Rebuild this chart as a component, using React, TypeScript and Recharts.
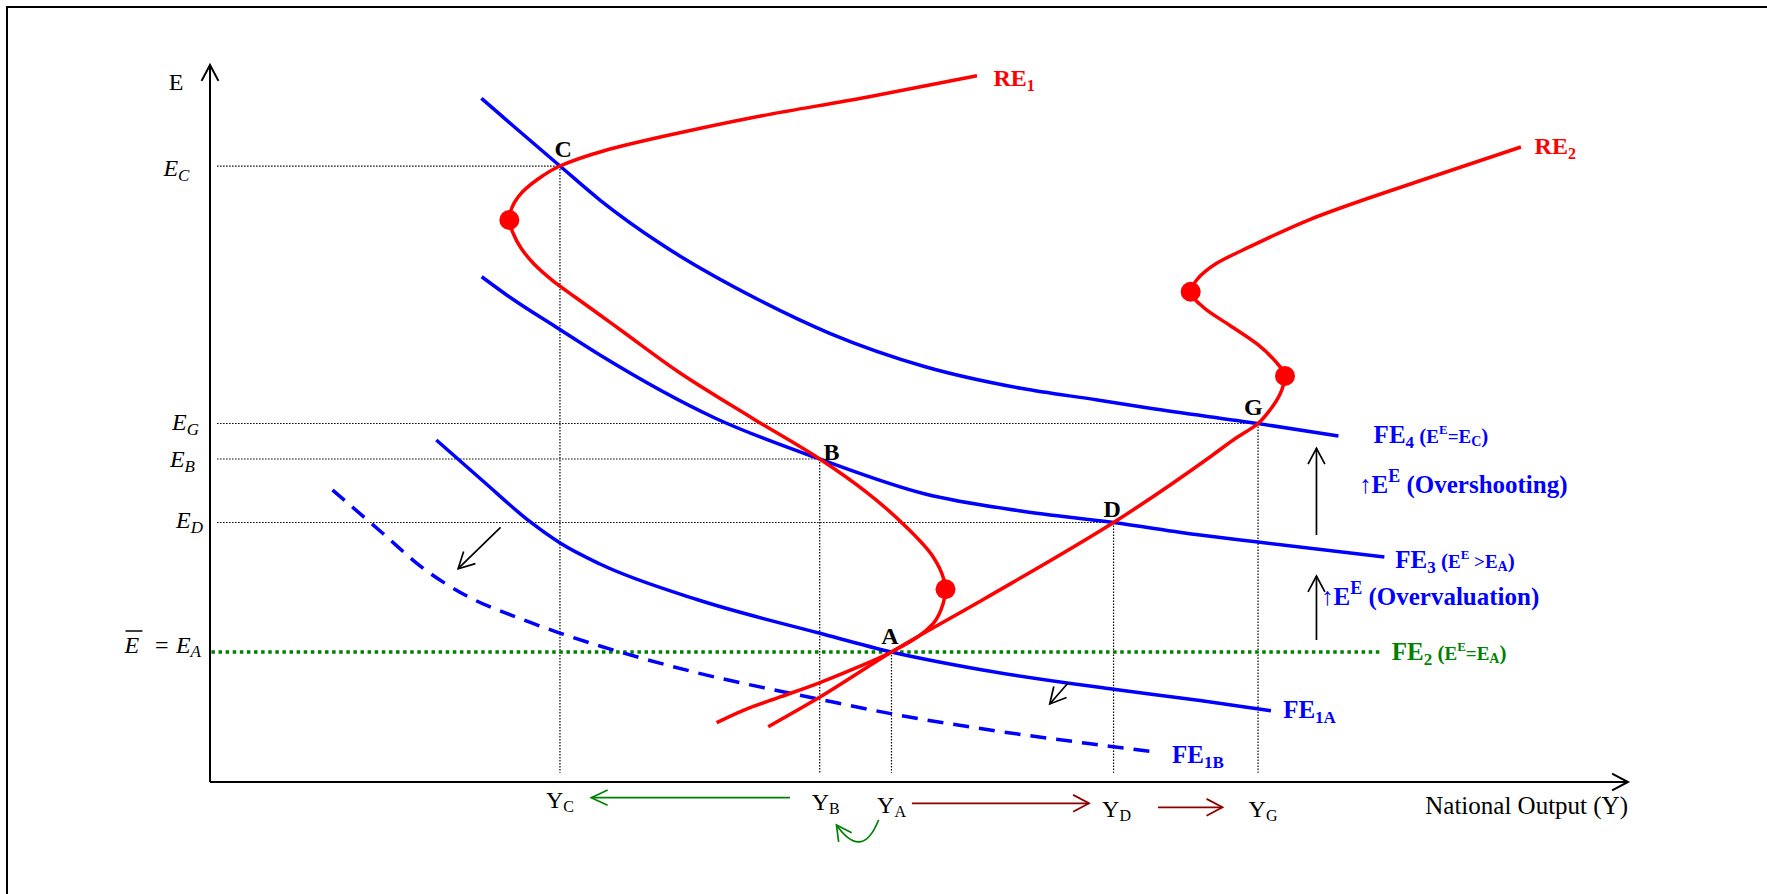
import React from 'react';
import { ComposedChart, Line, Scatter, XAxis, YAxis, ReferenceLine, ReferenceDot } from 'recharts';

const SERIF = "'Liberation Serif', 'Times New Roman', Times, serif";
const BLUE = '#0000ff';
const RED = '#ff0000';
const GREEN = '#008000';
const DARKRED = '#8b0000';

// ---------- equilibrium levels (chart units: output 0-100, exchange rate 0-100) ----------
const E_C = 85.91;
const E_G = 50.0;
const E_B = 45.05;
const E_D = 36.19;
const E_A = 18.13;
const Y_C = 24.68;
const Y_B = 43.0;
const Y_A = 48.06;
const Y_D = 63.72;
const Y_G = 73.91;

const yTickValues = [E_A, E_D, E_B, E_G, E_C];
const yTickNames = ['A', 'D', 'B', 'G', 'C'];
const xTickValues = [Y_C, Y_B, Y_A, Y_D, Y_G];
const xTickNames = ['C', 'B', 'A', 'D', 'G'];

const equilibria = [
  { name: 'C', x: Y_C, y: E_C },
  { name: 'B', x: Y_B, y: E_B },
  { name: 'A', x: Y_A, y: E_A },
  { name: 'D', x: Y_D, y: E_D },
  { name: 'G', x: Y_G, y: E_G },
];

// ---------- FE (foreign exchange) curves ----------
const FE4 = [
  { x: 19.14, y: 95.36 }, { x: 21.39, y: 91.49 }, { x: 24.68, y: 85.91 }, { x: 27.5, y: 81.17 },
  { x: 31.73, y: 75.13 }, { x: 38.65, y: 67.29 }, { x: 43.7, y: 62.58 }, { x: 50.44, y: 57.92 },
  { x: 57.19, y: 54.91 }, { x: 62.59, y: 53.28 }, { x: 66.29, y: 52.12 }, { x: 73.91, y: 50.0 },
  { x: 79.58, y: 48.26 },
];
const FE3 = [
  { x: 19.16, y: 70.47 }, { x: 21.23, y: 67.5 }, { x: 24.45, y: 63.39 }, { x: 27.5, y: 59.55 },
  { x: 35.6, y: 50.77 }, { x: 43.0, y: 45.05 }, { x: 50.44, y: 40.17 }, { x: 57.19, y: 37.8 },
  { x: 63.72, y: 36.19 }, { x: 69.82, y: 34.45 }, { x: 73.91, y: 33.47 }, { x: 82.82, y: 31.38 },
];
const FE2 = [{ x: 0.1, y: E_A }, { x: 82.65, y: E_A }];
const FE1A = [
  { x: 15.96, y: 47.7 }, { x: 19.25, y: 41.98 }, { x: 22.57, y: 36.3 }, { x: 24.72, y: 33.29 },
  { x: 27.5, y: 30.4 }, { x: 34.34, y: 25.45 }, { x: 43.02, y: 20.74 }, { x: 48.06, y: 18.13 },
  { x: 54.49, y: 15.62 }, { x: 63.72, y: 12.93 }, { x: 69.82, y: 11.37 }, { x: 74.82, y: 9.94 },
];
const FE1B = [
  { x: 8.64, y: 40.73 }, { x: 12.18, y: 34.69 }, { x: 14.88, y: 30.03 }, { x: 18.12, y: 25.94 },
  { x: 21.86, y: 22.8 }, { x: 24.72, y: 20.74 }, { x: 27.5, y: 18.97 }, { x: 33.85, y: 15.48 },
  { x: 43.02, y: 11.53 }, { x: 48.15, y: 9.48 }, { x: 55.01, y: 7.25 }, { x: 63.72, y: 4.92 },
  { x: 66.93, y: 4.11 },
];

// ---------- RE (real economy) curves, ordered from top to bottom ----------
const RE1 = [
  { x: 54.09, y: 98.51 }, { x: 46.4, y: 95.54 }, { x: 38.29, y: 92.68 }, { x: 32.9, y: 90.45 },
  { x: 27.86, y: 88.08 }, { x: 24.68, y: 85.91 }, { x: 23.04, y: 83.96 }, { x: 21.74, y: 81.63 },
  { x: 21.11, y: 78.38 }, { x: 21.37, y: 76.57 }, { x: 21.93, y: 74.48 }, { x: 22.85, y: 72.25 },
  { x: 24.12, y: 70.01 }, { x: 25.74, y: 67.64 }, { x: 27.5, y: 65.13 }, { x: 28.91, y: 63.11 },
  { x: 33.15, y: 57.04 }, { x: 38.22, y: 50.77 },
  { x: 43.0, y: 45.05 }, { x: 46.4, y: 40.26 }, { x: 49.08, y: 35.61 }, { x: 50.99, y: 31.42 },
  { x: 51.76, y: 28.17 }, { x: 51.87, y: 26.88 }, { x: 51.71, y: 24.92 }, { x: 51.01, y: 22.13 },
  { x: 49.93, y: 20.27 }, { x: 48.06, y: 18.13 }, { x: 45.77, y: 16.08 }, { x: 42.88, y: 13.77 },
  { x: 40.27, y: 11.9 }, { x: 37.66, y: 10.04 }, { x: 35.73, y: 8.27 },
];
const RE2 = [
  { x: 92.45, y: 88.56 }, { x: 85.12, y: 83.72 }, { x: 77.47, y: 78.38 }, { x: 73.34, y: 74.66 },
  { x: 70.99, y: 72.34 }, { x: 69.58, y: 70.01 }, { x: 69.16, y: 68.38 }, { x: 70.03, y: 66.25 },
  { x: 71.93, y: 63.67 }, { x: 73.84, y: 61.09 }, { x: 75.11, y: 58.72 }, { x: 75.81, y: 56.62 },
  { x: 75.58, y: 54.67 }, { x: 74.75, y: 51.88 }, { x: 73.91, y: 50.0 }, { x: 72.16, y: 47.7 },
  { x: 70.52, y: 45.33 }, { x: 63.72, y: 36.19 }, { x: 54.65, y: 25.59 }, { x: 48.06, y: 18.13 },
  { x: 43.02, y: 11.85 }, { x: 39.37, y: 7.71 },
];
const TURNING_POINTS = [
  { x: 21.11, y: 78.38 }, { x: 51.87, y: 26.88 }, { x: 69.16, y: 68.38 }, { x: 75.81, y: 56.62 },
];

// ---------- annotation arrows ----------
const shiftArrows = [
  { from: { x: 20.49, y: 35.52 }, to: { x: 17.5, y: 29.75 } },
  { from: { x: 60.51, y: 13.81 }, to: { x: 59.22, y: 10.88 } },
  { from: { x: 78.03, y: 34.45 }, to: { x: 78.03, y: 46.54 } },
  { from: { x: 78.03, y: 19.8 }, to: { x: 78.03, y: 28.73 } },
];
const contractionArrow = { from: { x: 40.9, y: -2.19 }, to: { x: 26.89, y: -2.19 } };
const hookArrow = { from: { x: 47.15, y: -5.3 }, to: { x: 44.18, y: -6.0 } };
const expansionArrows = [
  { from: { x: 49.5, y: -2.97 }, to: { x: 61.99, y: -2.97 } },
  { from: { x: 66.85, y: -3.53 }, to: { x: 71.4, y: -3.53 } },
];
const axisArrows = [
  { from: { x: 97, y: 0 }, to: { x: 100, y: 0 } },
  { from: { x: 0, y: 97 }, to: { x: 0, y: 100 } },
];

// ---------- text anchors ----------
const curveLabelAnchors = [
  { id: 'RE1', x: 55.25, y: 97.07 },
  { id: 'RE2', x: 93.41, y: 87.59 },
  { id: 'FE4', x: 82.06, y: 47.28 },
  { id: 'OVERSHOOT', x: 81.03, y: 40.35 },
  { id: 'FE3', x: 83.59, y: 29.8 },
  { id: 'OVERVALUE', x: 78.35, y: 24.69 },
  { id: 'FE2', x: 83.34, y: 17.02 },
  { id: 'FE1A', x: 75.68, y: 8.93 },
  { id: 'FE1B', x: 67.84, y: 2.65 },
];
const axisTitleAnchors = [
  { id: 'E', x: -2.4, y: 96.51 },
  { id: 'OUTPUT', x: 100, y: -4.5 },
];

// ---------- rendering helpers ----------
type Seg = { t: string; s: number; sh?: number };

function Rich({ x, y, segs, fill, anchor = 'start', weight = 'bold', italic = false }: any) {
  let cur = 0;
  return (
    <text
      x={x}
      y={y}
      textAnchor={anchor}
      fontFamily={SERIF}
      fontWeight={weight}
      fontStyle={italic ? 'italic' : 'normal'}
      fill={fill}
      style={{ whiteSpace: 'pre' }}
    >
      {segs.map((sg: Seg, i: number) => {
        const sh = sg.sh || 0;
        const dy = sh - cur;
        cur = sh;
        return (
          <tspan key={i} fontSize={sg.s} dy={dy}>
            {sg.t}
          </tspan>
        );
      })}
    </text>
  );
}

const labelContent: Record<string, { fill: string; segs: Seg[] }> = {
  RE1: { fill: RED, segs: [{ t: 'RE', s: 24 }, { t: '1', s: 16, sh: 5 }] },
  RE2: { fill: RED, segs: [{ t: 'RE', s: 24 }, { t: '2', s: 16, sh: 5 }] },
  FE4: {
    fill: BLUE,
    segs: [
      { t: 'FE', s: 25 }, { t: '4', s: 17, sh: 5 }, { t: ' (', s: 21 }, { t: 'E', s: 19 },
      { t: 'E', s: 13, sh: -9 }, { t: '=E', s: 19 }, { t: 'C', s: 14, sh: 3 }, { t: ')', s: 21 },
    ],
  },
  OVERSHOOT: {
    fill: BLUE,
    segs: [{ t: '\u2191E', s: 25 }, { t: 'E', s: 18, sh: -11 }, { t: ' (Overshooting)', s: 25 }],
  },
  FE3: {
    fill: BLUE,
    segs: [
      { t: 'FE', s: 25 }, { t: '3', s: 17, sh: 5 }, { t: ' (', s: 21 }, { t: 'E', s: 19 },
      { t: 'E', s: 13, sh: -9 }, { t: ' >E', s: 19 }, { t: 'A', s: 14, sh: 3 }, { t: ')', s: 21 },
    ],
  },
  OVERVALUE: {
    fill: BLUE,
    segs: [{ t: '\u2191E', s: 25 }, { t: 'E', s: 18, sh: -11 }, { t: ' (Overvaluation)', s: 25 }],
  },
  FE2: {
    fill: GREEN,
    segs: [
      { t: 'FE', s: 25 }, { t: '2', s: 17, sh: 5 }, { t: ' (', s: 21 }, { t: 'E', s: 19 },
      { t: 'E', s: 13, sh: -9 }, { t: '=E', s: 19 }, { t: 'A', s: 14, sh: 3 }, { t: ')', s: 21 },
    ],
  },
  FE1A: { fill: BLUE, segs: [{ t: 'FE', s: 25 }, { t: '1A', s: 17, sh: 5 }] },
  FE1B: { fill: BLUE, segs: [{ t: 'FE', s: 25 }, { t: '1B', s: 17, sh: 5 }] },
};

const pointLabelOffset: Record<string, { dx: number; dy: number }> = {
  C: { dx: 3.3, dy: -9 },
  B: { dx: 11.8, dy: 1 },
  A: { dx: -1.5, dy: -8 },
  D: { dx: -1.5, dy: -5.5 },
  G: { dx: -4.7, dy: -8.5 },
};

const yTickOffset: Record<string, { dx: number; dy: number }> = {
  C: { dx: -20.6, dy: 9.5 },
  G: { dx: -11, dy: 6.5 },
  B: { dx: -15, dy: 7.7 },
  D: { dx: -7, dy: 5.3 },
  A: { dx: -9, dy: 1.3 },
};
const xTickOffset: Record<string, { dx: number; dy: number }> = {
  C: { dx: 0, dy: 26 },
  B: { dx: 6, dy: 28 },
  A: { dx: 0, dy: 31 },
  D: { dx: 3, dy: 35 },
  G: { dx: 5, dy: 35 },
};

function findIndex(arr: number[], v: number) {
  for (let i = 0; i < arr.length; i++) if (Math.abs(arr[i] - v) < 1e-6) return i;
  return -1;
}

function YTick(props: any) {
  const { x, y, payload } = props;
  const i = findIndex(yTickValues, payload.value);
  if (i < 0) return <g />;
  const name = yTickNames[i];
  const o = yTickOffset[name];
  if (name === 'A') {
    return (
      <g>
        <text x={x - 85.6} y={y + o.dy} fontFamily={SERIF} fontStyle="italic" fontSize={24} fill="#000">
          E
        </text>
        <line x1={x - 84.5} x2={x - 67.6} y1={y - 21} y2={y - 21} stroke="#000" strokeWidth={1.5} />
        <text x={x - 55} y={y + o.dy} fontFamily={SERIF} fontSize={24} fill="#000">
          =
        </text>
        <Rich
          x={x + o.dx}
          y={y + o.dy}
          anchor="end"
          weight="normal"
          italic
          fill="#000"
          segs={[{ t: 'E', s: 24 }, { t: 'A', s: 17, sh: 4 }]}
        />
      </g>
    );
  }
  return (
    <Rich
      x={x + o.dx}
      y={y + o.dy}
      anchor="end"
      weight="normal"
      italic
      fill="#000"
      segs={[{ t: 'E', s: 24 }, { t: name, s: 17, sh: 5 }]}
    />
  );
}

function XTick(props: any) {
  const { x, y, payload } = props;
  const i = findIndex(xTickValues, payload.value);
  if (i < 0) return <g />;
  const name = xTickNames[i];
  const o = xTickOffset[name];
  return (
    <Rich
      x={x + o.dx}
      y={y + o.dy}
      anchor="middle"
      weight="normal"
      fill="#000"
      segs={[{ t: 'Y', s: 24 }, { t: name, s: 16, sh: 4 }]}
    />
  );
}

function makeArrow(color: string, width: number, head = 18, bend = 0, halfAngleDeg = 28) {
  return (p: any) => {
    const { x1, y1, x2, y2 } = p;
    let d: string;
    let tx: number;
    let ty: number;
    if (bend) {
      const mx = (x1 + x2) / 2;
      const my = (y1 + y2) / 2;
      const L = Math.hypot(x2 - x1, y2 - y1) || 1;
      const nx = -(y2 - y1) / L;
      const ny = (x2 - x1) / L;
      const cx = mx + nx * bend;
      const cy = my + ny * bend;
      d = `M${x1},${y1} Q${cx},${cy} ${x2},${y2}`;
      tx = x2 - cx;
      ty = y2 - cy;
    } else {
      d = `M${x1},${y1} L${x2},${y2}`;
      tx = x2 - x1;
      ty = y2 - y1;
    }
    const tl = Math.hypot(tx, ty) || 1;
    const bx = -tx / tl;
    const by = -ty / tl;
    const a = (halfAngleDeg * Math.PI) / 180;
    const c = Math.cos(a);
    const s = Math.sin(a);
    const b1x = x2 + head * (bx * c - by * s);
    const b1y = y2 + head * (bx * s + by * c);
    const b2x = x2 + head * (bx * c + by * s);
    const b2y = y2 + head * (-bx * s + by * c);
    return (
      <g>
        <path d={d} stroke={color} strokeWidth={width} fill="none" />
        <path
          d={`M${b1x},${b1y} L${x2},${y2} L${b2x},${b2y}`}
          stroke={color}
          strokeWidth={width}
          fill="none"
          strokeLinejoin="miter"
        />
      </g>
    );
  };
}

const blackArrow = makeArrow('#000', 1.7, 18);
const axisArrow = makeArrow('#000', 2, 18);
const greenArrow = makeArrow(GREEN, 1.7, 18, 0, 25);
const darkRedArrow = makeArrow(DARKRED, 1.8, 18);
const hookShape = makeArrow(GREEN, 1.7, 17, -39, 28);

const dotShape = (p: any) => <circle cx={p.cx} cy={p.cy} r={10} fill={RED} />;

export default function App() {
  const W = 1767;
  const H = 894;
  return (
    <div style={{ position: 'absolute', left: 0, top: 0, width: W, height: H, background: '#fff', overflow: 'hidden' }}>
      <div
        style={{
          position: 'absolute',
          left: 6,
          top: 6,
          width: 2000,
          height: 1200,
          borderLeft: '2px solid #000',
          borderTop: '2px solid #000',
        }}
      />
      <div style={{ position: 'absolute', left: 0, top: 0 }}>
        <ComposedChart width={W} height={H} margin={{ top: 65, right: 139, left: 150, bottom: 72 }}>
          <XAxis
            type="number"
            dataKey="x"
            domain={[0, 100]}
            allowDataOverflow
            ticks={xTickValues}
            interval={0}
            tick={XTick}
            tickLine={false}
            tickSize={0}
            tickMargin={0}
            height={40}
            axisLine={{ stroke: '#000', strokeWidth: 2 }}
          />
          <YAxis
            type="number"
            dataKey="y"
            domain={[0, 100]}
            allowDataOverflow
            ticks={yTickValues}
            interval={0}
            tick={YTick}
            tickLine={false}
            tickSize={0}
            tickMargin={0}
            width={60}
            axisLine={{ stroke: '#000', strokeWidth: 2 }}
          />

          {/* dotted guides */}
          {equilibria
            .filter((p) => p.name !== 'A')
            .map((p) => (
              <ReferenceLine
                key={'h' + p.name}
                segment={[{ x: 0.5, y: p.y }, { x: p.x, y: p.y }]}
                stroke="#000"
                strokeWidth={1.2}
                strokeDasharray="1.5 1.5"
              />
            ))}
          {equilibria.map((p) => (
            <ReferenceLine
              key={'v' + p.name}
              segment={[{ x: p.x, y: p.y }, { x: p.x, y: 1.3 }]}
              stroke="#000"
              strokeWidth={1.2}
              strokeDasharray="1.5 1.5"
            />
          ))}

          <Line data={FE2} dataKey="y" type="linear" stroke={GREEN} strokeWidth={3.5} strokeDasharray="3.5 3.6" dot={false} activeDot={false} isAnimationActive={false} />
          <Line data={FE1B} dataKey="y" type="monotone" stroke={BLUE} strokeWidth={3.5} strokeDasharray="16 10" dot={false} activeDot={false} isAnimationActive={false} />
          <Line data={FE1A} dataKey="y" type="monotone" stroke={BLUE} strokeWidth={3.5} dot={false} activeDot={false} isAnimationActive={false} />
          <Line data={FE3} dataKey="y" type="monotone" stroke={BLUE} strokeWidth={3.5} dot={false} activeDot={false} isAnimationActive={false} />
          <Line data={FE4} dataKey="y" type="monotone" stroke={BLUE} strokeWidth={3.5} dot={false} activeDot={false} isAnimationActive={false} />
          <Line data={RE1} dataKey="y" type="monotoneY" stroke={RED} strokeWidth={3.5} dot={false} activeDot={false} isAnimationActive={false} />
          <Line data={RE2} dataKey="y" type="monotoneY" stroke={RED} strokeWidth={3.5} dot={false} activeDot={false} isAnimationActive={false} />
          <Scatter data={TURNING_POINTS} dataKey="y" shape={dotShape} isAnimationActive={false} />

          {/* arrows */}
          {axisArrows.map((a, i) => (
            <ReferenceLine key={'ax' + i} segment={[a.from, a.to]} ifOverflow="visible" shape={axisArrow} />
          ))}
          {shiftArrows.map((a, i) => (
            <ReferenceLine key={'sh' + i} segment={[a.from, a.to]} ifOverflow="visible" shape={blackArrow} />
          ))}
          <ReferenceLine segment={[contractionArrow.from, contractionArrow.to]} ifOverflow="visible" shape={greenArrow} />
          <ReferenceLine segment={[hookArrow.from, hookArrow.to]} ifOverflow="visible" shape={hookShape} />
          {expansionArrows.map((a, i) => (
            <ReferenceLine key={'ex' + i} segment={[a.from, a.to]} ifOverflow="visible" shape={darkRedArrow} />
          ))}

          {/* point labels */}
          {equilibria.map((p) => (
            <ReferenceDot
              key={'pl' + p.name}
              x={p.x}
              y={p.y}
              ifOverflow="visible"
              shape={(sp: any) => (
                <text
                  x={sp.cx + pointLabelOffset[p.name].dx}
                  y={sp.cy + pointLabelOffset[p.name].dy}
                  textAnchor="middle"
                  fontFamily={SERIF}
                  fontWeight="bold"
                  fontSize={24}
                  fill="#000"
                >
                  {p.name}
                </text>
              )}
            />
          ))}

          {/* curve labels */}
          {curveLabelAnchors.map((l) => (
            <ReferenceDot
              key={'cl' + l.id}
              x={l.x}
              y={l.y}
              ifOverflow="visible"
              shape={(sp: any) => (
                <Rich x={sp.cx} y={sp.cy} fill={labelContent[l.id].fill} segs={labelContent[l.id].segs} />
              )}
            />
          ))}

          {/* axis titles */}
          {axisTitleAnchors.map((l) => (
            <ReferenceDot
              key={'at' + l.id}
              x={l.x}
              y={l.y}
              ifOverflow="visible"
              shape={(sp: any) =>
                l.id === 'E' ? (
                  <text x={sp.cx} y={sp.cy} textAnchor="middle" fontFamily={SERIF} fontSize={24} fill="#000">
                    E
                  </text>
                ) : (
                  <text x={sp.cx} y={sp.cy} textAnchor="end" fontFamily={SERIF} fontSize={25} fill="#000">
                    National Output (Y)
                  </text>
                )
              }
            />
          ))}
        </ComposedChart>
      </div>
    </div>
  );
}
